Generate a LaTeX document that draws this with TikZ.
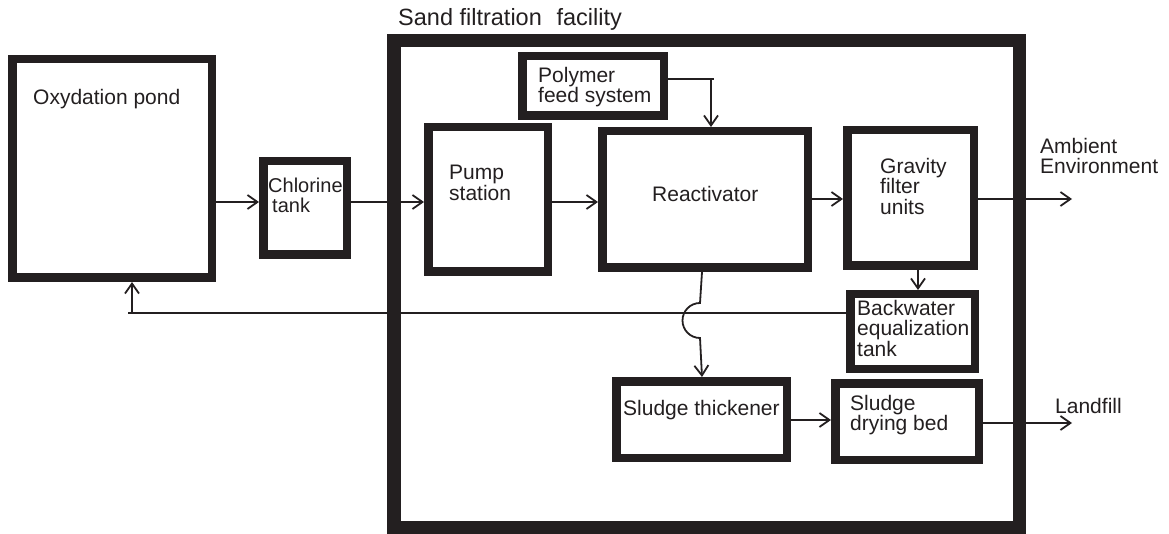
\documentclass[tikz,border=0pt]{standalone}
\usepackage{fontspec}
\setmainfont{Liberation Sans}
\usetikzlibrary{arrows.meta}
\definecolor{ink}{RGB}{35,31,32}
\begin{document}
\begin{tikzpicture}[x=1pt,y=-1pt,
  box/.style={draw=ink, line width=8.5pt, inner sep=0pt},
  frame/.style={draw=ink, line width=13.5pt, inner sep=0pt},
  conn/.style={draw=ink, line width=1.8pt, -{Straight Barb[length=10pt,width=14pt]}},
  wire/.style={draw=ink, line width=1.8pt},
  lbl/.style={text=ink, inner sep=0pt, anchor=north west, align=left, font=\fontsize{21}{20.5}\selectfont},
]
\useasboundingbox (0,0) rectangle (1169,534);
% boxes
\node[frame, minimum width=625.5pt, minimum height=486.5pt] (frame) at (706.5,284) {};
\node[box, minimum width=199.5pt, minimum height=218.5pt] (pond) at (112,168.5) {};
\node[box, minimum width=83.5pt, minimum height=93.5pt] (chlor) at (305,208) {};
\node[box, minimum width=141.5pt, minimum height=59.5pt] (poly) at (593,86) {};
\node[box, minimum width=119.5pt, minimum height=144.5pt] (pump) at (488,199.5) {};
\node[box, minimum width=205.5pt, minimum height=136.5pt] (react) at (705,199.5) {};
\node[box, minimum width=126.5pt, minimum height=135.5pt] (grav) at (910.5,198) {};
\node[box, minimum width=124.5pt, minimum height=74.5pt] (back) at (912.5,331.5) {};
\node[box, minimum width=170.5pt, minimum height=76.5pt] (thick) at (701.5,419.5) {};
\node[box, minimum width=143.5pt, minimum height=76.5pt] (dry) at (907,421.5) {};
% labels
\node[lbl, anchor=base west, font=\fontsize{23.5}{23.5}\selectfont] (tTitle) at (398,26) {Sand filtration\hspace{0.35em} facility};
\node[lbl, anchor=base west] (tPond) at (33,105) {Oxydation pond};
\node[lbl, font=\fontsize{20}{20.5}\selectfont] (tChlor) at (268,177.5) {Chlorine\\\hspace{4pt}tank};
\node[lbl] (tPoly) at (538,67) {Polymer\\feed system};
\node[lbl] (tPump) at (449,165) {Pump\\station};
\node[lbl, anchor=base west] (tReact) at (652,202) {Reactivator};
\node[lbl] (tGrav) at (880,158) {Gravity\\filter\\units};
\node[lbl] (tBack) at (857,300) {Backwater\\equalization\\tank};
\node[lbl, anchor=base west] (tThick) at (623,415) {Sludge thickener};
\node[lbl] (tDry) at (850,395) {Sludge\\drying bed};
\node[lbl] (tAmb) at (1040,138) {Ambient\\Environment};
\node[lbl, anchor=base west] (tLand) at (1055,413) {Landfill};
% connectors
\coordinate (ra) at (0,202);
\draw[conn] (pond.east |- ra) -- (chlor.west |- ra);
\draw[conn] (chlor.east |- ra) -- (pump.west |- ra);
\draw[conn] (pump.east |- ra) -- (react.west |- ra);
\coordinate (rb) at (0,199);
\draw[conn] (react.east |- rb) -- (grav.west |- rb);
\coordinate (amb) at (1072,199);
\draw[conn] (grav.east |- rb) -- (amb);
\coordinate (pfe) at (714,79);
\coordinate (pfv) at (711,79);
\draw[wire] (poly.east |- pfe) -- (pfe);
\draw[conn] (pfv) -- (pfv |- react.north);
\coordinate (gb) at (918,0);
\draw[conn] (grav.south -| gb) -- (back.north -| gb);
\coordinate (rcl) at (128,313);
\coordinate (rcv) at (132,313);
\draw[wire] (back.west |- rcl) -- (rcl);
\draw[conn] (rcv) -- (pond.south -| rcv);
\coordinate (hx) at (702,0);
\coordinate (hop) at (700,303);
\draw[conn] (react.south -| hx) -- (hop) arc[start angle=270, end angle=90, radius=17.5] -- (thick.north -| hx);
\coordinate (rd) at (0,420);
\draw[conn] (thick.east |- rd) -- (dry.west |- rd);
\coordinate (lf) at (1072,423);
\draw[conn] (dry.east |- lf) -- (lf);
\end{tikzpicture}
\end{document}
